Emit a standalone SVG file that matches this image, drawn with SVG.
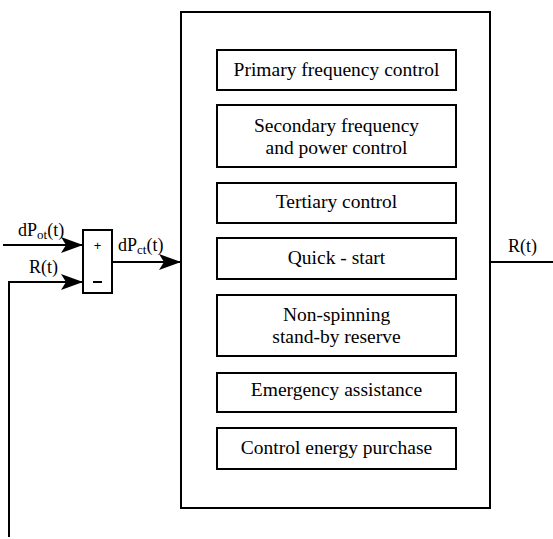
<svg xmlns="http://www.w3.org/2000/svg" width="553" height="539" viewBox="0 0 553 539">
<defs>
<marker id="ah" markerWidth="22" markerHeight="16" refX="22" refY="8" orient="auto" markerUnits="userSpaceOnUse">
<path d="M0,0 L22,8 L0,16 L5,8 Z" fill="#000"/>
</marker>
</defs>
<g id="outer"><rect fill="#fff" stroke="#000" stroke-width="2" x="181" y="12" width="309" height="496"/></g>
<g font-family="'Liberation Serif', 'Times New Roman', 'DejaVu Serif', serif" font-size="19.5" text-anchor="middle">
<g id="n1"><rect fill="#fff" stroke="#000" stroke-width="2" x="217" y="50" width="239" height="40"/><text x="336.5" y="76">Primary frequency control</text></g>
<g id="n2"><rect fill="#fff" stroke="#000" stroke-width="2" x="217" y="105" width="239" height="62"/><text x="336.5" y="132">Secondary frequency</text><text x="336.5" y="154">and power control</text></g>
<g id="n3"><rect fill="#fff" stroke="#000" stroke-width="2" x="217" y="183" width="239" height="40"/><text x="336.5" y="208">Tertiary control</text></g>
<g id="n4"><rect fill="#fff" stroke="#000" stroke-width="2" x="217" y="238" width="239" height="41"/><text x="336.5" y="264">Quick - start</text></g>
<g id="n5"><rect fill="#fff" stroke="#000" stroke-width="2" x="217" y="295" width="239" height="61"/><text x="336.5" y="321">Non-spinning</text><text x="336.5" y="343">stand-by reserve</text></g>
<g id="n6"><rect fill="#fff" stroke="#000" stroke-width="2" x="217" y="373" width="239" height="39"/><text x="336.5" y="396">Emergency assistance</text></g>
<g id="n7"><rect fill="#fff" stroke="#000" stroke-width="2" x="217" y="428" width="239" height="41"/><text x="336.5" y="454">Control energy purchase</text></g>
</g>
<g id="sum"><rect fill="#fff" stroke="#000" stroke-width="2" x="83" y="230" width="29" height="63"/><text x="97.5" y="250" text-anchor="middle" font-family="'Liberation Sans', Arial, sans-serif" font-size="13">+</text><line x1="93" y1="282" x2="102" y2="282" stroke="#000" stroke-width="2"/></g>
<g id="connectors" fill="none" stroke="#000" stroke-width="2">
<line x1="3" y1="245" x2="83" y2="245" marker-end="url(#ah)"/>
<polyline points="9,537 9,282 83,282" marker-end="url(#ah)"/>
<line x1="112" y1="262" x2="181" y2="262" marker-end="url(#ah)"/>
<line x1="490" y1="262" x2="553" y2="262"/>
</g>
<g id="labels" font-family="'Liberation Serif', 'Times New Roman', 'DejaVu Serif', serif" font-size="18">
<text x="18" y="236">dP<tspan dy="3" font-size="13">ot</tspan><tspan dy="-3">(t)</tspan></text>
<text x="29" y="273">R(t)</text>
<text x="118" y="251">dP<tspan dy="3" font-size="13">ct</tspan><tspan dy="-3">(t)</tspan></text>
<text x="508" y="252">R(t)</text>
</g>
</svg>
